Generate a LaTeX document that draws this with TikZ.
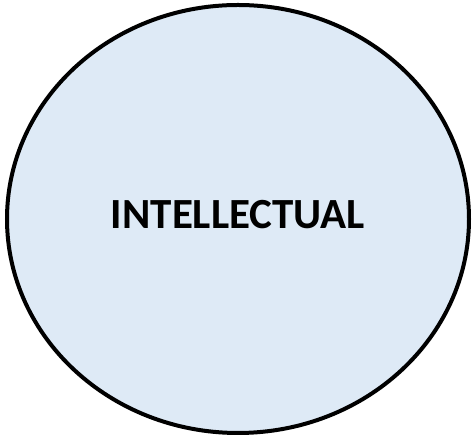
\documentclass[tikz,border=0pt]{standalone}
\usepackage{fontspec}
\setmainfont{Carlito}
\usetikzlibrary{shapes.geometric}
\definecolor{paleblue}{HTML}{DEEAF6}

\begin{document}
\begin{tikzpicture}[x=1pt, y=1pt,
  oval/.style={draw=black, fill=paleblue, ellipse, line width=4pt, minimum width=462pt, minimum height=428pt, inner sep=0pt},
  label/.style={font=\fontsize{43}{48}\selectfont\bfseries}]
\useasboundingbox (0,0) rectangle (474,438);

\node[oval] at (238,219) (intel) {};
\node[label, anchor=center] at (238,223) (intellbl) {INTELLECTUAL};
\end{tikzpicture}
\end{document}
